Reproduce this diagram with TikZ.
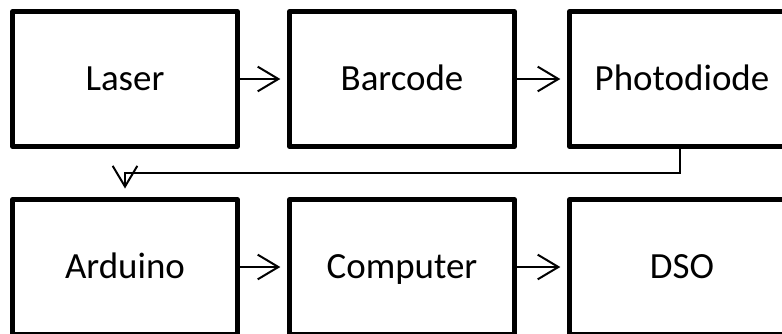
\documentclass[tikz,border=0pt]{standalone}
\usepackage{fontspec}
\setmainfont{Carlito}
\usetikzlibrary{arrows.meta}
\tikzset{
  blockbox/.style={draw=black, line width=3.75pt, line join=round, rectangle,
    minimum width=168.75pt, minimum height=101pt, inner sep=0pt,
    text height=17.8pt, text depth=0pt,
    font=\fontsize{27.7pt}{33pt}\selectfont},
  flowarrow/.style={draw=black, line width=1.5pt,
    -{Straight Barb[length=15.5pt,width=18.5pt,line width=1.5pt]}, shorten >=5pt}
}
\begin{document}
\begin{tikzpicture}[x=0.75pt,y=-0.75pt]
\useasboundingbox (0,0) rectangle (782,333);
\clip (0,0) rectangle (782,333);
\node[blockbox] (laser) at (125,79) {Laser};
\node[blockbox] (barcode) at (402,79) {Barcode};
\node[blockbox] (photo) at (682,79) {Photodiode};
\node[blockbox] (arduino) at (125,267) {Arduino};
\node[blockbox] (computer) at (402,267) {Computer};
\node[blockbox] (dso) at (682,267) {DSO};
\coordinate (bend) at (125,173);
\coordinate (drop) at (680,173);
\draw[flowarrow] (laser) -- (barcode);
\draw[flowarrow] (barcode) -- (photo);
\draw[flowarrow] (arduino) -- (computer);
\draw[flowarrow] (computer) -- (dso);
\draw[flowarrow, shorten >=6.5pt] (photo.south -| drop) -- (drop) -- (bend) -- (arduino.north);
\end{tikzpicture}
\end{document}
